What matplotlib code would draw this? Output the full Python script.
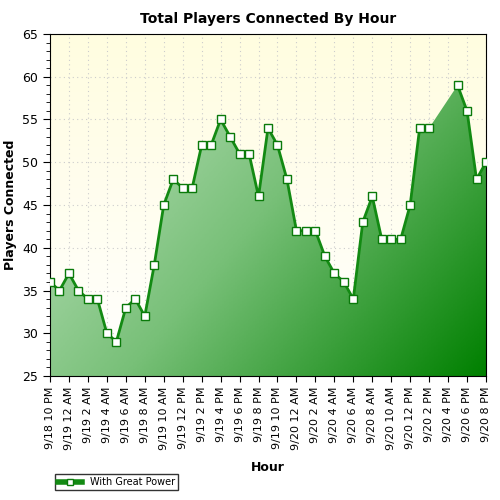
import numpy as np
import matplotlib.pyplot as plt
from matplotlib.colors import LinearSegmentedColormap
from matplotlib.lines import Line2D

# hourly samples, 9/18 10 PM .. 9/20 8 PM (two hours missing before 9/20 5 PM)
players = [36, 35, 37, 35, 34, 34, 30, 29, 33, 34, 32, 38, 45, 48, 47, 47, 52, 52, 55, 53,
           51, 51, 46, 54, 52, 48, 42, 42, 42, 39, 37, 36, 34, 43, 46, 41, 41, 41, 45, 54,
           54, np.nan, np.nan, 59, 56, 48, 50]
tick_labels = ["9/18 10 PM", "9/19 12 AM", "9/19 2 AM", "9/19 4 AM", "9/19 6 AM", "9/19 8 AM",
               "9/19 10 AM", "9/19 12 PM", "9/19 2 PM", "9/19 4 PM", "9/19 6 PM", "9/19 8 PM",
               "9/19 10 PM", "9/20 12 AM", "9/20 2 AM", "9/20 4 AM", "9/20 6 AM", "9/20 8 AM",
               "9/20 10 AM", "9/20 12 PM", "9/20 2 PM", "9/20 4 PM", "9/20 6 PM", "9/20 8 PM"]

y = np.array(players, dtype=float)
x = np.arange(len(y))
ok = ~np.isnan(y)

fig = plt.figure(figsize=(5, 5), dpi=100, facecolor="white")
ax = fig.add_axes([0.10, 0.248, 0.872, 0.684])
xmin, xmax, ymin, ymax = 0, len(y) - 1, 25, 65

# background: pale yellow top fading to white
bg = LinearSegmentedColormap.from_list("bg", ["#ffffff", "#fffde0"])
ax.imshow(np.linspace(0, 1, 100).reshape(-1, 1), cmap=bg, aspect="auto", origin="lower",
          extent=[xmin, xmax, ymin, ymax], zorder=0)

# filled area with diagonal gradient (light top-left -> dark bottom-right)
poly = ax.fill_between(x[ok], y[ok], ymin, color="none", zorder=1)
gx, gy = np.meshgrid(np.linspace(0, 1, 200), np.linspace(0, 1, 200))
grad = gx * 0.6 + gy * 0.4
fillmap = LinearSegmentedColormap.from_list("fill", ["#c8e6c8", "#78c078", "#008000"])
im = ax.imshow(grad, cmap=fillmap, aspect="auto", origin="upper",
               extent=[xmin, xmax, ymin, ymax], zorder=1)
im.set_clip_path(poly.get_paths()[0], transform=ax.transData)

ax.plot(x, y, color="#138a13", lw=2, marker="s", ms=6, mfc="white", mec="#0a7a0a", mew=1, zorder=3)

ax.set_xlim(xmin, xmax)
ax.set_ylim(ymin, ymax)
ax.set_xticks(np.arange(0, len(y), 2))
ax.set_xticklabels(tick_labels, rotation=90, fontsize=8)
ax.set_yticks(np.arange(25, 66, 5))
ax.set_yticks(np.arange(25, 66, 1), minor=True)
ax.tick_params(axis="y", labelsize=9, length=5)
ax.tick_params(axis="y", which="minor", length=3)
ax.tick_params(axis="x", length=4)
ax.set_axisbelow(True)
ax.grid(True, color="#cccccc", ls=(0, (1, 3)), lw=0.8)

ax.set_title("Total Players Connected By Hour", fontsize=10, fontweight="bold", pad=8)
ax.set_xlabel("Hour", fontsize=9, fontweight="bold", labelpad=8)
ax.set_ylabel("Players Connected", fontsize=9, fontweight="bold")

handle = Line2D([], [], color="#138a13", lw=4, marker="s", ms=5, mfc="white", mec="#0a7a0a")
fig.legend([handle], ["With Great Power"], loc="lower left", bbox_to_anchor=(0.1, 0.01),
           fontsize=7, frameon=True, fancybox=False, edgecolor="black", handlelength=2.5,
           borderpad=0.3)

fig.savefig("out.png", dpi=100)
